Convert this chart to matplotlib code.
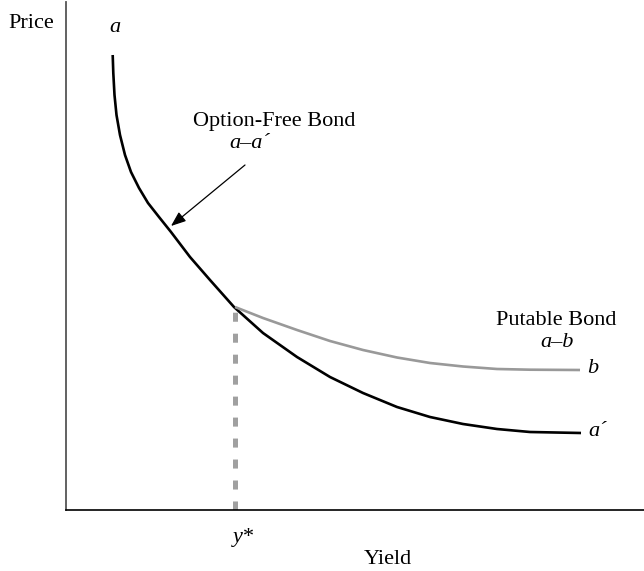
import matplotlib
matplotlib.use("Agg")
import matplotlib.pyplot as plt

# values (yield / price in picture units)
free_yield = [46.7, 47.3, 48.5, 50.5, 54, 59, 65, 73, 82, 93, 105, 124, 144,
              168, 197, 231, 264, 297, 331, 364, 397, 431, 464, 515]
free_price = [455, 437, 415, 395, 375, 355, 338, 322, 307, 293, 278, 253, 230,
              203, 177, 153, 133, 117, 103, 93, 86, 81, 78, 77]
put_yield = [169, 197, 231, 264, 297, 331, 364, 397, 431, 464, 514]
put_price = [203, 192, 180, 169, 160, 152.5, 147, 143.5, 141, 140.3, 140]
y_star = 169
y_star_price = 203

plt.rcParams['font.family'] = ['Liberation Serif', 'DejaVu Serif']
plt.rcParams['lines.scale_dashes'] = False

fig = plt.figure(figsize=(6.44, 5.71), dpi=100)
ax = fig.add_axes([66 / 644, 61 / 571, 578 / 644, 508.5 / 571])
ax.set_xlim(0, 578)
ax.set_ylim(0, 508.5)

ax.plot(free_yield, free_price, color='black', lw=1.9, solid_capstyle='butt',
        solid_joinstyle='round')
ax.plot(put_yield, put_price, color='#999999', lw=1.9, solid_capstyle='butt',
        solid_joinstyle='round')
ax.plot([y_star, y_star], [0, y_star_price], color='#a0a0a0', lw=3.6,
        dashes=(6.5, 8.6))

ax.annotate('', xy=(105, 284), xytext=(179, 345),
            arrowprops=dict(arrowstyle='-|>,head_length=0.9,head_width=0.35',
                            color='black', lw=0.9, shrinkA=0, shrinkB=0))

fs = 16
ax.text(-58, 482, 'Price', fontsize=fs, ha='left', va='baseline')
ax.text(49, 478, 'a', fontsize=fs, style='italic', ha='center', va='baseline')
ax.text(127, 384, 'Option-Free Bond', fontsize=fs, ha='left', va='baseline')
ax.text(184, 362, 'a–a\u00b4', fontsize=fs, style='italic', ha='center', va='baseline')
ax.text(490, 185, 'Putable Bond', fontsize=fs, ha='center', va='baseline')
ax.text(491, 163, 'a–b', fontsize=fs, style='italic', ha='center', va='baseline')
ax.text(521, 137, 'b', fontsize=fs, style='italic', ha='left', va='baseline')
ax.text(522, 74, 'a\u00b4', fontsize=fs, style='italic', ha='left', va='baseline')
ax.text(167, -32, 'y*', fontsize=fs, style='italic', ha='left', va='baseline')
ax.text(322, -54, 'Yield', fontsize=fs, ha='center', va='baseline')

for s in ['top', 'right']:
    ax.spines[s].set_visible(False)
ax.spines['left'].set_color('#555555')
ax.spines['left'].set_linewidth(1.3)
ax.spines['bottom'].set_color('black')
ax.spines['bottom'].set_linewidth(1.2)
ax.set_xticks([])
ax.set_yticks([])

fig.savefig('out.png', dpi=100)
